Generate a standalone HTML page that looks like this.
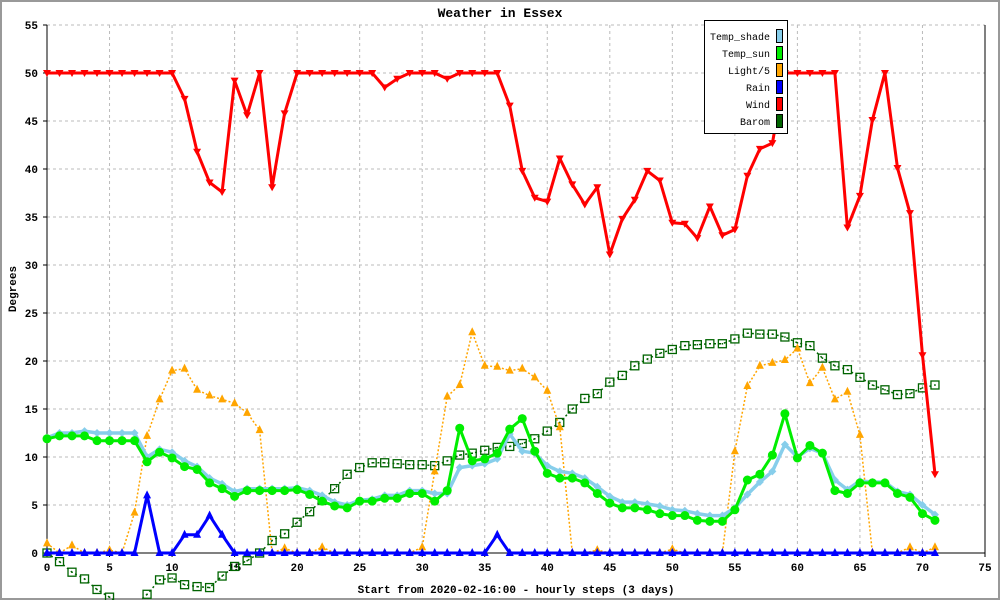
<!DOCTYPE html>
<html><head><meta charset="utf-8"><style>
html,body{margin:0;padding:0;background:#fff}
svg{display:block;font-family:"Liberation Mono",monospace}
</style></head><body>
<svg id="c" width="1000" height="600" viewBox="0 0 1000 600">
<rect x="1" y="1" width="998" height="598" fill="#fff" stroke="#999" stroke-width="2"/>
<text x="500" y="17" text-anchor="middle" font-size="13" font-weight="bold">Weather in Essex</text>
<text transform="translate(16,289) rotate(-90)" text-anchor="middle" font-size="11" font-weight="bold">Degrees</text>
<text x="516" y="593" text-anchor="middle" font-size="11" font-weight="bold">Start from 2020-02-16:00 - hourly steps (3 days)</text>
<g id="grid"></g><g id="axes"></g><g id="series"></g><g id="legend"></g>
</svg>
<script>
const xTicks=[0,5,10,15,20,25,30,35,40,45,50,55,60,65,70,75];
const yTicks=[0,5,10,15,20,25,30,35,40,45,50,55];
const tempShade=[12.0,12.5,12.5,12.7,12.5,12.5,12.5,12.5,10.0,10.8,10.5,9.6,9.0,7.8,7.2,6.4,6.7,6.7,6.7,6.7,6.8,6.5,6.0,5.3,5.0,5.5,5.6,6.0,6.0,6.5,6.5,6.2,6.2,8.9,9.1,9.3,9.8,12.4,10.6,10.4,9.1,8.5,8.3,7.8,6.9,5.9,5.3,5.3,5.1,4.9,4.5,4.4,4.1,3.9,3.9,4.7,6.1,7.4,8.5,11.3,10.0,10.9,10.4,7.6,6.6,7.5,7.4,7.4,6.4,6.1,5.0,4.0];
const tempSun=[11.9,12.2,12.2,12.2,11.7,11.7,11.7,11.7,9.5,10.5,9.9,9.0,8.7,7.3,6.7,5.9,6.5,6.5,6.5,6.5,6.6,6.1,5.4,4.9,4.7,5.4,5.4,5.7,5.7,6.2,6.2,5.4,6.5,13.0,9.6,9.8,10.4,12.9,14.0,10.6,8.3,7.8,7.8,7.3,6.2,5.2,4.7,4.7,4.5,4.1,3.9,3.9,3.4,3.3,3.3,4.5,7.6,8.2,10.2,14.5,9.9,11.2,10.4,6.5,6.2,7.3,7.3,7.3,6.2,5.8,4.1,3.4];
const light5=[1.0,0,0.8,0,0,0.3,0,4.2,12.2,16.0,19.0,19.2,17.0,16.4,16.0,15.6,14.6,12.8,0,0.5,0,0,0.6,0,0,0,0,0,0,0,0.6,8.5,16.3,17.5,23.0,19.5,19.4,19.0,19.2,18.3,16.9,13.1,0,0,0.3,0,0,0,0,0,0.4,0,0,0,0,10.6,17.4,19.5,19.8,20.1,21.3,17.7,19.3,16.0,16.8,12.3,0,0,0,0.6,0,0.6];
const rain=[0,0,0,0,0,0,0,0,6.0,0,0,1.9,1.9,3.9,1.9,0,0,0,0,0,0,0,0,0,0,0,0,0,0,0,0,0,0,0,0,0,1.9,0,0,0,0,0,0,0,0,0,0,0,0,0,0,0,0,0,0,0,0,0,0,0,0,0,0,0,0,0,0,0,0,0,0,0];
const wind=[50,50,50,50,50,50,50,50,50,50,50,47.3,41.8,38.6,37.6,49.2,45.6,50,38.1,45.8,50,50,50,50,50,50,50,48.5,49.4,50,50,50,49.4,50,50,50,50,46.6,39.8,37.0,36.6,41.1,38.4,36.3,38.1,31.1,34.8,36.8,39.8,38.8,34.4,34.3,32.8,36.1,33.1,33.7,39.3,42.1,42.7,50,50,50,50,50,33.9,37.2,45.1,50,40.1,35.4,20.6,8.2];
const barom=[0,-0.9,-2.0,-2.7,-3.8,-4.6,-5.5,-5.5,-4.3,-2.8,-2.6,-3.3,-3.5,-3.6,-2.4,-1.4,-0.8,0,1.3,2.0,3.2,4.3,5.5,6.7,8.2,8.9,9.4,9.4,9.3,9.2,9.2,9.1,9.6,10.2,10.4,10.7,11.0,11.1,11.4,11.9,12.7,13.6,15.0,16.1,16.6,17.8,18.5,19.5,20.2,20.8,21.2,21.6,21.7,21.8,21.8,22.3,22.9,22.8,22.8,22.5,21.9,21.6,20.3,19.5,19.1,18.3,17.5,17.0,16.5,16.6,17.2,17.5];
const legendNames=["Temp_shade","Temp_sun","Light/5","Rain","Wind","Barom"];
const legendColors=["#87ceeb","#00ee00","#ffa500","#0000ff","#ff0000","#006400"];

const NS="http://www.w3.org/2000/svg";
const X0=47,X1=985,Y0=553,Y1=25;
const sx=v=>X0+(X1-X0)*v/75, sy=v=>Y0-(Y0-Y1)*v/55;
function mk(p,t,a){const e=document.createElementNS(NS,t);for(const k in a)e.setAttribute(k,a[k]);p.appendChild(e);return e;}
const grid=document.getElementById('grid'),axes=document.getElementById('axes'),ser=document.getElementById('series'),leg=document.getElementById('legend');
xTicks.forEach(t=>{
 if(t>0&&t<75){const l=mk(grid,'line',{x1:sx(t),x2:sx(t),y1:Y1,y2:Y0,stroke:'#bbb','stroke-dasharray':'3,3'});
 
 }
 const tx=mk(axes,'text',{x:sx(t),y:Y0+18,'text-anchor':'middle','font-size':'11','font-weight':'bold'});tx.textContent=t;
 
 
 mk(axes,'line',{x1:sx(t),x2:sx(t),y1:Y0,y2:Y0+4,stroke:'#000'});
});
yTicks.forEach(t=>{
 if(t>0){const l=mk(grid,'line',{x1:X0,x2:X1,y1:sy(t),y2:sy(t),stroke:'#bbb','stroke-dasharray':'3,3'});
 
 }
 const tx=mk(axes,'text',{x:X0-9,y:sy(t)+4,'text-anchor':'end','font-size':'11','font-weight':'bold'});tx.textContent=t;
 
 
 mk(axes,'line',{x1:X0-4,x2:X0,y1:sy(t),y2:sy(t),stroke:'#000'});
});
mk(axes,'line',{x1:X0,x2:X0,y1:Y1,y2:Y0,stroke:'#000'});
mk(axes,'line',{x1:X0,x2:X1,y1:Y0,y2:Y0,stroke:'#000'});
mk(axes,'line',{x1:X1,x2:X1,y1:Y1,y2:Y0,stroke:'#000'});

function series(data,color,width,dash,marker,name){
 const g=mk(ser,'g',{});
 
 
 const pts=data.map((v,i)=>sx(i).toFixed(1)+','+sy(v).toFixed(1)).join(' ');
 const a={points:pts,fill:'none',stroke:color,'stroke-width':width,'stroke-linejoin':'round'};
 if(dash)a['stroke-dasharray']=dash;
 mk(g,'polyline',a);
 data.forEach((v,i)=>{
  const x=sx(i),y=sy(v);let m;
  if(marker==='circle')m=mk(g,'circle',{cx:x,cy:y,r:4.5,fill:color});
  else if(marker==='diamond')m=mk(g,'polygon',{points:`${x},${y-4} ${x+4},${y} ${x},${y+4} ${x-4},${y}`,fill:color});
  else if(marker==='up')m=mk(g,'polygon',{points:`${x},${y-5} ${x+4},${y+3} ${x-4},${y+3}`,fill:color});
  else if(marker==='down')m=mk(g,'polygon',{points:`${x-4},${y-3} ${x+4},${y-3} ${x},${y+4}`,fill:color});
  else if(marker==='square'){m=mk(g,'rect',{x:x-4,y:y-4,width:8,height:8,fill:'none',stroke:color,'stroke-width':1.3});mk(g,'rect',{x:x-0.7,y:y-0.7,width:1.5,height:1.5,fill:color});}
  
  
 });
}
series(barom,'#006400',1.5,'2,3','square','barom-series');
series(light5,'#ffa500',1.5,'2,2','up','light-series');
series(tempShade,'#87ceeb',3.5,null,'diamond','temp-shade-series');
series(tempSun,'#00ee00',3,null,'circle','temp-sun-series');
series(rain,'#0000ff',3,null,'up','rain-series');
series(wind,'#ff0000',3,null,'down','wind-series');

mk(leg,'rect',{x:704.5,y:20.5,width:83,height:113,fill:'#fff',stroke:'#000'});
legendNames.forEach((n,i)=>{
 const y=36+i*17;
 const t=mk(leg,'text',{x:770,y:y+4,'text-anchor':'end','font-size':'10'});t.textContent=n;
 
 
 const r=mk(leg,'rect',{x:776.5,y:y-6.5,width:6,height:13,fill:legendColors[i],stroke:'#000'});
 
 
});
</script>
</body></html>
